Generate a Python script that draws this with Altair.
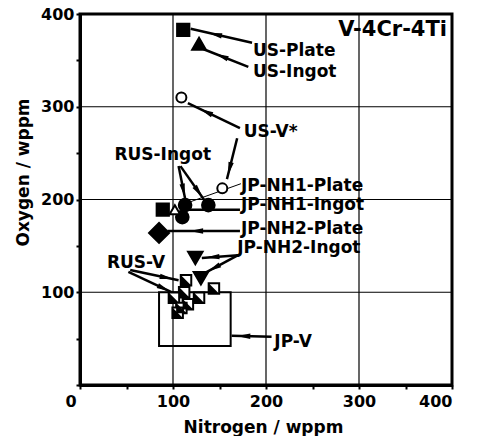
import altair as alt
import pandas as pd

FONT = "DejaVu Sans"

# ---- marker data ----
pt_x = [111, 128, 109, 153, 113, 138, 110, 89, 102, 85, 124, 130]
pt_y = [383, 368, 310, 212, 194, 194, 181, 189, 189, 164, 137, 115]
pt_shape = ["square", "triangle-up", "circle", "circle", "circle", "circle", "circle",
            "square", "triangle-up", "diamond", "triangle-down", "triangle-down"]
pt_fill = ["black", "black", "white", "white", "black", "black", "black",
           "black", "white", "black", "black", "black"]
pt_size = [150, 190, 100, 100, 160, 160, 160, 150, 110, 400, 210, 210]

# RUS-V half-filled squares
hs_x = [114, 144, 112, 101, 116, 128, 109, 105]
hs_y = [113, 104, 100, 94, 87, 94, 83, 78]

# JP-V box
box_x1, box_x2, box_y1, box_y2 = [85], [162], [42], [100]

# ---- labels ----
lab_text = ["US-Plate", "US-Ingot", "US-V*", "RUS-Ingot", "JP-NH1-Plate", "JP-NH1-Ingot",
            "JP-NH2-Plate", "JP-NH2-Ingot", "RUS-V", "JP-V"]
lab_x = [186, 186, 176, 37, 173, 173, 173, 169, 29, 209]
lab_y = [360, 337, 273, 248, 215, 194, 168, 148, 131, 46]

# ---- arrows / leader lines ----
ar_x = [185, 181, 172, 169, 106, 108, 173, 172, 172, 170, 170, 54, 52, 206]
ar_y = [369, 343, 277, 266, 236, 236, 217, 189, 166, 140, 140, 124, 122, 52]
ar_x2 = [119, 133, 116, 158, 113, 134, 106, 115, 94, 131, 133, 106, 103, 163]
ar_y2 = [384, 362, 304, 222, 201, 199, 193, 189, 166, 137, 120, 113, 98, 53]
ar_w = [2.5, 2.5, 2.5, 2.5, 2.5, 2.5, 1, 2.5, 2.5, 2.5, 2.5, 2.5, 2.5, 2.5]
ar_head = [1, 1, 1, 1, 1, 1, 0, 0, 1, 1, 1, 1, 1, 1]
ar_frac = [0.6, 0.6, 0.65, 0.75, 0.75, 0.75, 0, 0, 0.6, 0.7, 0.7, 0.75, 0.75, 0.7]

grid_vals = [100, 200, 300]
tick_vals = [0, 50, 100, 150, 200, 250, 300, 350, 400]

pts = pd.DataFrame({"x": pt_x, "y": pt_y, "shape": pt_shape, "fill": pt_fill, "size": pt_size})
hs = pd.DataFrame({"x": hs_x, "y": hs_y})
box = pd.DataFrame({"x": box_x1, "x2": box_x2, "y": box_y1, "y2": box_y2})
labs = pd.DataFrame({"text": lab_text, "x": lab_x, "y": lab_y})
arr = pd.DataFrame({"x": ar_x, "y": ar_y, "x2": ar_x2, "y2": ar_y2, "w": ar_w,
                    "head": ar_head, "f": ar_frac})
grid = pd.DataFrame({"v": grid_vals})

xs = alt.Scale(domain=[0, 400], nice=False, zero=False)
ys = alt.Scale(domain=[0, 400], nice=False, zero=False)

xaxis = alt.Axis(values=tick_vals, grid=False, labelExpr="datum.value % 100 == 0 ? datum.label : ''",
                 labelOffset={"condition": {"test": "datum.value === 0", "value": -15}, "value": 0},
                 title="Nitrogen / wppm", titleY=42, titleX=183, titleBaseline="middle",
                 labelPadding=4)
yaxis = alt.Axis(values=tick_vals, grid=False,
                 labelExpr="datum.value % 100 == 0 && datum.value > 0 ? datum.label : ''",
                 title="Oxygen / wppm", titleX=-57, titleY=158, titleAngle=270,
                 titleAlign="center", titleBaseline="middle", labelPadding=2)

base_x = alt.X("x:Q", scale=xs, axis=xaxis)
base_y = alt.Y("y:Q", scale=ys, axis=yaxis)

vgrid = alt.Chart(grid).mark_rule(color="black", strokeWidth=1.2).encode(x=alt.X("v:Q", scale=xs))
hgrid = alt.Chart(grid).mark_rule(color="black", strokeWidth=1.2).encode(y=alt.Y("v:Q", scale=ys))

boxl = alt.Chart(box).mark_rect(fillOpacity=0, stroke="black", strokeWidth=2).encode(
    x=base_x, x2="x2:Q", y=base_y, y2="y2:Q")

lines = alt.Chart(arr).mark_rule(color="black").encode(
    x=base_x, y=base_y, x2="x2:Q", y2="y2:Q", strokeWidth=alt.StrokeWidth("w:Q", scale=None))

heads = alt.Chart(arr).transform_filter("datum.head == 1").transform_calculate(
    hx="datum.x + datum.f * (datum.x2 - datum.x)",
    hy="datum.y + datum.f * (datum.y2 - datum.y)",
    ang="(atan2(datum.x2 - datum.x, datum.y2 - datum.y) * 180 / PI + 360) % 360",
).mark_point(shape="M0,-1L0.4,1L-0.4,1Z", filled=True, color="black", size=180, opacity=1).encode(
    x=alt.X("hx:Q", scale=xs), y=alt.Y("hy:Q", scale=ys), angle=alt.Angle("ang:Q", scale=None))

points = alt.Chart(pts).mark_point(stroke="black", strokeWidth=2, opacity=1, fillOpacity=1).encode(
    x=base_x, y=base_y,
    shape=alt.Shape("shape:N", scale=None),
    fill=alt.Fill("fill:N", scale=None),
    size=alt.Size("size:Q", scale=None))

hs_sq = alt.Chart(hs).mark_point(shape="square", fill="white", fillOpacity=1, stroke="black",
                                 strokeWidth=2, size=110, opacity=1).encode(x=base_x, y=base_y)
hs_tri = alt.Chart(hs).mark_point(shape="M-1,-1L-1,1L1,1Z", filled=True, color="black",
                                  size=110, opacity=1).encode(x=base_x, y=base_y)

labels = alt.Chart(labs).mark_text(align="left", baseline="middle", font=FONT, fontWeight="bold",
                                   fontSize=17, color="black").encode(
    x=base_x, y=base_y, text="text:N")

title = alt.Chart(pd.DataFrame({"t": ["V-4Cr-4Ti"]})).mark_text(
    align="right", baseline="middle", font=FONT, fontWeight="bold", fontSize=21, color="black"
).encode(x=alt.value(367), y=alt.value(16), text="t:N")

chart = alt.layer(vgrid, hgrid, boxl, lines, heads, hs_sq, hs_tri, points, labels, title).properties(
    width=372, height=371,
    padding={"left": 80, "top": 14, "right": 27, "bottom": 51},
    autosize=alt.AutoSizeParams(type="none"),
    background="white",
).configure_view(stroke="black", strokeWidth=3).configure_axis(
    domainColor="black", domainWidth=3, tickColor="black", tickWidth=2, tickSize=4,
    labelFont=FONT, labelFontWeight="bold", labelFontSize=16, labelColor="black",
    titleFont=FONT, titleFontWeight="bold", titleFontSize=17, titleColor="black",
)

chart.save("out.html", embed_options={"renderer": "svg", "actions": False})
